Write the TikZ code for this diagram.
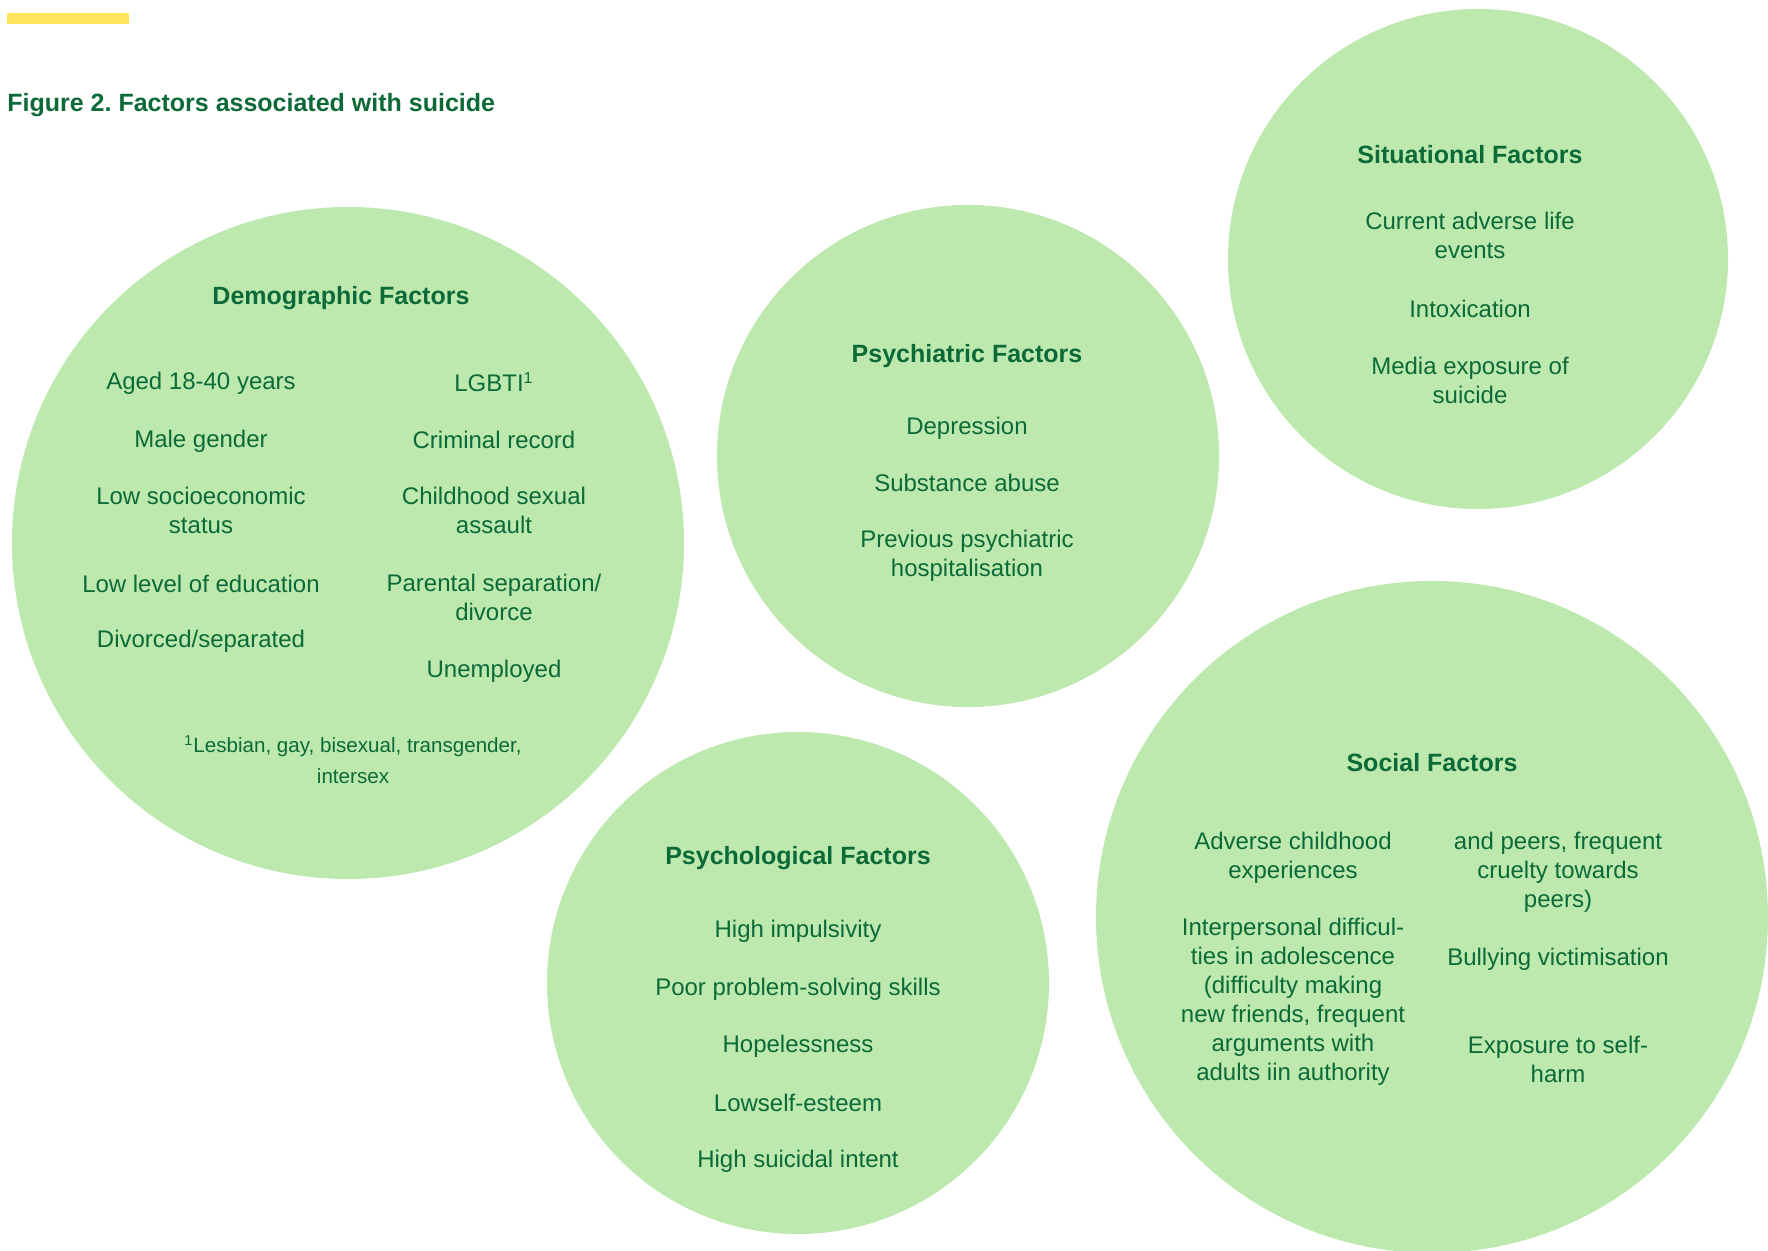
\documentclass[tikz,border=0pt]{standalone}
\usepackage{fontspec}
\setmainfont{Liberation Sans}
\usepackage{tikz}
\usetikzlibrary{calc}
\frenchspacing

\definecolor{bubblegreen}{HTML}{BDE9AE}
\definecolor{factgreen}{HTML}{0B6A37}
\definecolor{baryellow}{HTML}{FFE55C}

\begin{document}
\begin{tikzpicture}[x=0.5pt, y=-0.5pt,
        bubble/.style={fill=bubblegreen},
        factor/.style={text=factgreen, align=center, inner sep=0pt, font=\fontsize{12}{14.5}\selectfont},
        heading/.style={text=factgreen, align=center, inner sep=0pt, font=\fontsize{12.5}{15}\selectfont\bfseries},
        footnote/.style={text=factgreen, align=center, inner sep=0pt, font=\fontsize{10.3}{15.5}\selectfont}]
        \fill[white] (0,0) rectangle (1768,1251);
        \useasboundingbox (0,0) rectangle (1768,1251);

        \fill[baryellow] (7,13) rectangle (129,24);
        \node[heading, anchor=base west] (title) at (7,112) {Figure 2. Factors associated with suicide};

        \coordinate (D) at (348,543);
        \coordinate (P) at (968,456);
        \coordinate (S) at (1478,259);
        \coordinate (Y) at (798,983);
        \coordinate (O) at (1432,917);
        \fill[bubble] (D) circle[radius=168pt];
        \fill[bubble] (P) circle[radius=125.5pt];
        \fill[bubble] (S) circle[radius=125pt];
        \fill[bubble] (Y) circle[radius=125.5pt];
        \fill[bubble] (O) circle[radius=168pt];

        \node[heading] (demohead) at (341,298) {Demographic Factors};
        \node[factor] (aged) at (201,383) {Aged 18-40 years};
        \node[factor] (male) at (201,441) {Male gender};
        \node[factor] (lowses) at (201,510) {Low socioeconomic\\status};
        \node[factor] (lowedu) at (201,584) {Low level of education};
        \node[factor] (divorced) at (201,641) {Divorced/separated};
        \node[factor] (lgbti) at (494,382) {LGBTI\textsuperscript{1}};
        \node[factor] (criminal) at (494,440) {Criminal record};
        \node[factor] (csa) at (494,510) {Childhood sexual\\assault};
        \node[factor] (parental) at (494,597) {Parental separation/\\divorce};
        \node[factor] (unemployed) at (494,671) {Unemployed};
        \node[footnote] (lgbtinote) at (353,760) {\textsuperscript{1}Lesbian, gay, bisexual, transgender,\\intersex};

        \node[heading] (psychihead) at (967,356) {Psychiatric Factors};
        \node[factor] (depression) at (967,428) {Depression};
        \node[factor] (substance) at (967,483) {Substance abuse};
        \node[factor] (hospital) at (967,556) {Previous psychiatric\\hospitalisation};

        \node[heading] (situhead) at (1470,155) {Situational Factors};
        \node[factor] (adverse) at (1470,235) {Current adverse life\\events};
        \node[factor] (intox) at (1470,309) {Intoxication};
        \node[factor] (media) at (1470,380) {Media exposure of\\suicide};

        \node[heading] (psychohead) at (798,858) {Psychological Factors};
        \node[factor] (impulsive) at (798,931) {High impulsivity};
        \node[factor] (problem) at (798,989) {Poor problem-solving skills};
        \node[factor] (hopeless) at (798,1046) {Hopelessness};
        \node[factor] (esteem) at (798,1103) {Lowself-esteem};
        \node[factor] (intent) at (798,1161) {High suicidal intent};

        \node[heading] (socialhead) at (1432,763) {Social Factors};
        \node[factor] (childhood) at (1293,858) {Adverse childhood\\experiences};
        \node[factor] (interpersonal) at (1293,1002) {Interpersonal difficul-\\ties in adolescence\\(difficulty making\\new friends, frequent\\arguments with\\adults iin authority};
        \node[factor] (peers) at (1558,872) {and peers, frequent\\cruelty towards\\peers)};
        \node[factor] (bullying) at (1558,959) {Bullying victimisation};
        \node[factor] (selfharm) at (1558,1059) {Exposure to self-\\harm};

    \end{tikzpicture}
\end{document}
